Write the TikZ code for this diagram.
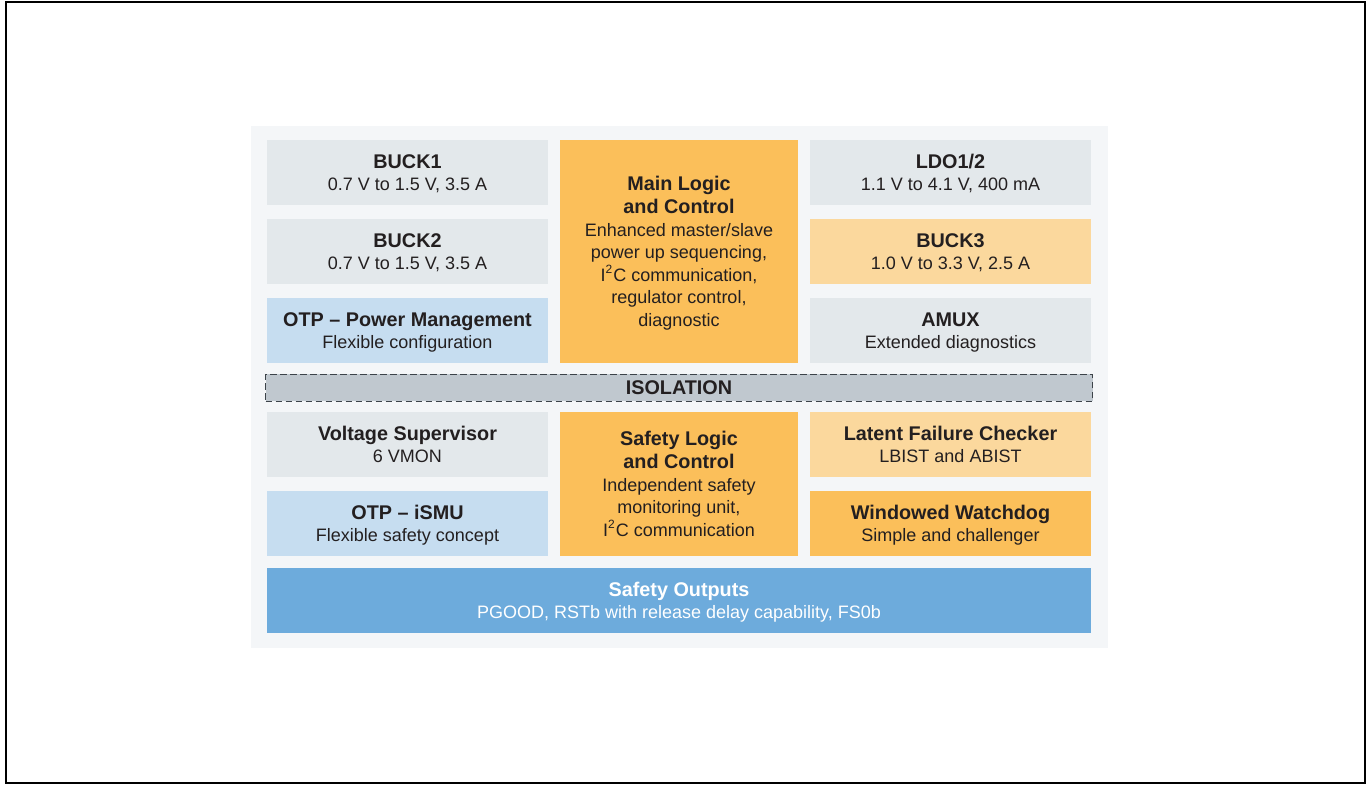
\documentclass[tikz,border=0pt]{standalone}
\usepackage{fontspec}
\setmainfont{Liberation Sans}
\usepackage{tikz}
\usetikzlibrary{positioning}

\definecolor{panelgray}{HTML}{F4F6F8}
\definecolor{blockgray}{HTML}{E3E8EB}
\definecolor{blocklightblue}{HTML}{C6DDF0}
\definecolor{blockorange}{HTML}{FBBF5A}
\definecolor{blocklightorange}{HTML}{FBD89D}
\definecolor{blockblue}{HTML}{6DABDC}
\definecolor{isolationgray}{HTML}{C0C8CF}
\definecolor{isolationedge}{HTML}{3C4349}
\definecolor{textdark}{HTML}{231F20}

\newcommand{\blocktitle}[1]{{\fontsize{9.9}{11.3}\selectfont\bfseries #1}}

\begin{document}
\begin{tikzpicture}
    [
        x=0.5pt, y=-0.5pt,
        node distance=39.5pt and 135.75pt, on grid,
        block/.style={rectangle, inner sep=0pt, align=center, text=textdark, font=\fontsize{9}{11.3}\selectfont, minimum width=140.5pt, minimum height=32.5pt, text depth=-1.2pt},
        gray_block/.style={block, fill=blockgray},
        lightblue_block/.style={block, fill=blocklightblue},
        orange_block/.style={block, fill=blockorange},
        lightorange_block/.style={block, fill=blocklightorange},
        logic_block/.style={block, fill=blockorange, minimum width=119pt},
        isolation_bar/.style={block, text depth=0pt, fill=isolationgray, draw=isolationedge, line width=0.6pt, dash pattern=on 3.3pt off 1.7pt, minimum width=413.5pt, minimum height=13.5pt},
        output_block/.style={block, fill=blockblue, text=white, minimum width=412pt},
    ]
        \useasboundingbox (0,0) rectangle (1367,785);
        \draw[line width=1pt, color=black] (6,2.5) rectangle (1364.5,783);
        \fill[panelgray] (251,126) rectangle (1108,648);

        % power side
        \node[gray_block] (buck1) at (407.5,172.5) {\blocktitle{BUCK1}\\0.7 V to 1.5 V, 3.5 A};
        \node[gray_block] (buck2) [below = of buck1] {\blocktitle{BUCK2}\\0.7 V to 1.5 V, 3.5 A};
        \node[lightblue_block] (otp_pm) [below = of buck2] {\blocktitle{OTP \textendash{} Power Management}\\Flexible configuration};
        \node[logic_block, minimum height=111.5pt] (main_logic) [right = of buck2] {\blocktitle{Main Logic}\\\blocktitle{and Control}\\Enhanced master/slave\\power up sequencing,\\I\textsuperscript{2}C communication,\\regulator control,\\diagnostic};
        \node[lightorange_block] (buck3) [right = of main_logic] {\blocktitle{BUCK3}\\1.0 V to 3.3 V, 2.5 A};
        \node[gray_block] (ldo) [above = of buck3] {\blocktitle{LDO1/2}\\1.1 V to 4.1 V, 400 mA};
        \node[gray_block] (amux) [below = of buck3] {\blocktitle{AMUX}\\Extended diagnostics};

        \node[isolation_bar] (isolation) [below = 68.25pt of main_logic] {\blocktitle{ISOLATION}};

        % safety side
        \node[gray_block] (vsup) [below = 57pt of otp_pm] {\blocktitle{Voltage Supervisor}\\6 VMON};
        \node[lightblue_block] (otp_ismu) [below = of vsup] {\blocktitle{OTP \textendash{} iSMU}\\Flexible safety concept};
        \node[logic_block, minimum height=72pt] (safety_logic) [below right = 19.75pt and 135.75pt of vsup] {\blocktitle{Safety Logic}\\\blocktitle{and Control}\\Independent safety\\monitoring unit,\\I\textsuperscript{2}C communication};
        \node[lightorange_block] (latent) [right = 271.5pt of vsup] {\blocktitle{Latent Failure Checker}\\LBIST and ABIST};
        \node[orange_block] (watchdog) [right = 271.5pt of otp_ismu] {\blocktitle{Windowed Watchdog}\\Simple and challenger};
        \node[output_block] (outputs) [below right = 38.5pt and 135.75pt of otp_ismu] {\blocktitle{Safety Outputs}\\PGOOD, RSTb with release delay capability, FS0b};
    \end{tikzpicture}
\end{document}
